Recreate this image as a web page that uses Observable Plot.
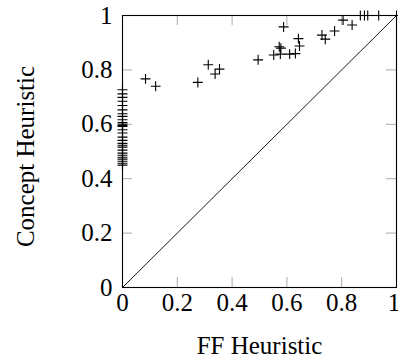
<!DOCTYPE html>
<html>
<head>
<meta charset="utf-8">
<script src="https://cdn.jsdelivr.net/npm/d3@7"></script>
<script src="https://cdn.jsdelivr.net/npm/@observablehq/plot@0.6"></script>
<style>
  html, body { margin: 0; padding: 0; background: white; }
</style>
</head>
<body>
<div id="chart"></div>
<script>
// FF Heuristic (x) vs Concept Heuristic (y)
const ffValues = [
  0, 0, 0, 0, 0, 0, 0, 0, 0, 0, 0, 0, 0, 0,
  0, 0, 0, 0, 0, 0, 0, 0, 0, 0, 0, 0, 0, 0,
  0.084, 0.121, 0.275, 0.313, 0.338, 0.354, 0.495,
  0.552, 0.572, 0.578, 0.576, 0.610, 0.631, 0.646,
  0.588, 0.642, 0.728, 0.740, 0.774, 0.805, 0.838,
  0.868, 0.883, 0.895, 0.935, 1.0
];
const conceptValues = [
  0.727, 0.712, 0.699, 0.685, 0.669, 0.653, 0.639, 0.629, 0.617, 0.606, 0.600, 0.595, 0.592, 0.580,
  0.568, 0.553, 0.541, 0.530, 0.523, 0.516, 0.505, 0.494, 0.486, 0.479, 0.472, 0.464, 0.457, 0.450,
  0.767, 0.740, 0.754, 0.819, 0.785, 0.803, 0.837,
  0.855, 0.885, 0.880, 0.858, 0.858, 0.860, 0.888,
  0.958, 0.915, 0.928, 0.913, 0.943, 0.983, 0.965,
  1.0, 1.0, 1.0, 1.0, 1.0
];
const xTicks = [0, 0.2, 0.4, 0.6, 0.8, 1];
const yTicks = [0, 0.2, 0.4, 0.6, 0.8, 1];
const diagonal = [0, 1];
const xLabel = "FF Heuristic";
const yLabel = "Concept Heuristic";

const points = ffValues.map((x, i) => ({x, y: conceptValues[i]}));

const W = 398, H = 360;
const mL = 122, mR = 2, mT = 15, mB = 73;
const frameW = W - mL - mR, frameH = H - mT - mB;
const tickLen = 10;
const innerX = xTicks.filter(d => d > 0 && d < 1);
const innerY = yTicks.filter(d => d > 0 && d < 1);
const lastX = xTicks.filter(d => d === 1);
const restX = xTicks.filter(d => d !== 1);
const fmt = d => String(d);

const chart = Plot.plot({
  width: W,
  height: H,
  marginLeft: mL,
  marginRight: mR,
  marginTop: mT,
  marginBottom: mB,
  style: "font-family: 'Liberation Serif', 'Times New Roman', serif; font-size: 25px; background: white; color: black;",
  x: {domain: [0, 1]},
  y: {domain: [0, 1]},
  marks: [
    Plot.ruleX(innerX, {x: d => d, stroke: "#aaa", strokeWidth: 1, insetTop: frameH - tickLen}),
    Plot.ruleX(innerX, {x: d => d, stroke: "#aaa", strokeWidth: 1, insetBottom: frameH - tickLen}),
    Plot.ruleY(innerY, {y: d => d, stroke: "#aaa", strokeWidth: 1, insetRight: frameW - tickLen}),
    Plot.ruleY(innerY, {y: d => d, stroke: "#aaa", strokeWidth: 1, insetLeft: frameW - tickLen}),
    Plot.line(diagonal, {x: d => d, y: d => d, stroke: "black", strokeWidth: 0.9}),
    Plot.frame({stroke: "black", strokeWidth: 1.1}),
    Plot.axisX({ticks: restX, tickSize: 0, tickPadding: 6, tickFormat: fmt,
      label: xLabel, labelAnchor: "center", labelOffset: 66, labelArrow: "none"}),
    Plot.axisX({ticks: lastX, tickSize: 0, tickPadding: 6, tickFormat: fmt, label: null, dx: -2.5}),
    Plot.axisY({ticks: yTicks, tickSize: 0, tickPadding: 10, tickFormat: fmt, label: null}),
    Plot.text([yLabel], {text: d => d, frameAnchor: "left", textAnchor: "middle", rotate: -90, lineAnchor: "top",
      dx: -106, dy: 5, fill: "black"}),
    Plot.dot(points, {x: "x", y: "y", symbol: "plus", r: 3.3, stroke: "black", strokeWidth: 1.1, fill: "none"})
  ]
});
document.getElementById("chart").appendChild(chart);
</script>
</body>
</html>
